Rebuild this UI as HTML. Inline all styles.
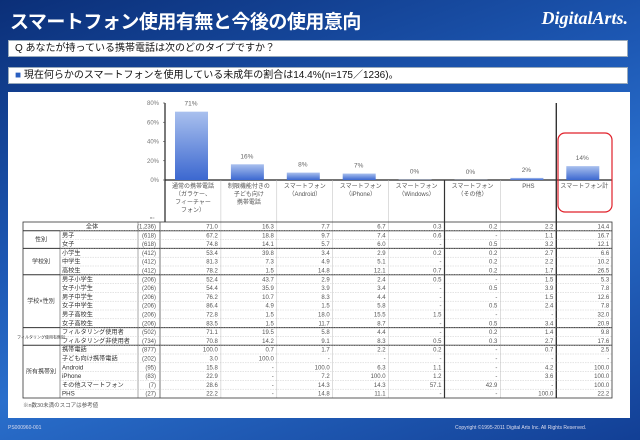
<!DOCTYPE html>
<html><head><meta charset="utf-8">
<style>
*{margin:0;padding:0;box-sizing:border-box}
body{width:640px;height:440px;overflow:hidden;position:relative;font-family:"Liberation Sans","Noto Sans CJK JP",sans-serif;background:linear-gradient(160deg,#0b2f78 0%,#1d58b4 40%,#2a6fcc 60%,#123f95 100%)}
.title{position:absolute;left:10px;top:7px;color:#fff;font-size:19px;font-weight:bold;letter-spacing:-0.5px}
.logo{position:absolute;right:12px;top:8px;color:#fff;font-size:18px;font-style:italic;font-family:"Liberation Serif",serif;font-weight:bold}
.box{position:absolute;left:8px;width:620px;background:#fff;border:1px solid #9ab;font-size:10px;color:#111;padding-left:6px;line-height:15px}
.panel{position:absolute;left:8px;top:92px;width:622px;height:326px;background:#fff}
.foot{position:absolute;top:425px;font-size:5px;color:#dde}
svg text{font-family:"Liberation Sans","Noto Sans CJK JP",sans-serif}
</style></head><body>
<div class="title">スマートフォン使用有無と今後の使用意向</div>
<div class="logo">DigitalArts.</div>
<div class="box" style="top:40px;height:17px">Q あなたが持っている携帯電話は次のどのタイプですか？</div>
<div class="box" style="top:67px;height:17px"><span style="color:#2a5fc0">■</span> 現在何らかのスマートフォンを使用している未成年の割合は14.4%(n=175／1236)。</div>
<div class="panel"></div>
<svg id="chart" width="640" height="440" style="position:absolute;left:0;top:0">
<defs><linearGradient id="bg" x1="0" y1="0" x2="0" y2="1"><stop offset="0" stop-color="#a9c0ee"/><stop offset="1" stop-color="#3c68d0"/></linearGradient></defs>
<g id="g"></g></svg>
<div class="foot" style="left:8px">PS000960-001</div>
<div class="foot" style="left:455px">Copyright ©1995-2011 Digital Arts Inc. All Rights Reserved.</div>
<script>
const categories=[["通常の携帯電話","（ガラケー、","フィーチャー","フォン）"],["制限機能付きの","子ども向け","携帯電話"],["スマートフォン","（Android）"],["スマートフォン","（iPhone）"],["スマートフォン","（Windows）"],["スマートフォン","（その他）"],["PHS"],["スマートフォン計"]];
const values=[71.0,16.3,7.7,6.7,0.3,0.2,2.2,14.4];
const valueLabels=["71%","16%","8%","7%","0%","0%","2%","14%"];
const yTicks=[0,20,40,60,80];
const rowGroups=[["全体",1],["性別",2],["学校別",3],["学校×性別",6],["フィルタリング使用有無別",2],["所有携帯別",6]];
const rowLabels=["全体","男子","女子","小学生","中学生","高校生","男子小学生","女子小学生","男子中学生","女子中学生","男子高校生","女子高校生","フィルタリング使用者","フィルタリング非使用者","携帯電話","子ども向け携帯電話","Android","iPhone","その他スマートフォン","PHS"];
const rowN=["1,236","618","618","412","412","412","206","206","206","206","206","206","502","734","877","202","95","83","7","27"];
const tableData=[
["71.0","16.3","7.7","6.7","0.3","0.2","2.2","14.4"],
["67.2","18.8","9.7","7.4","0.6","-","1.1","16.7"],
["74.8","14.1","5.7","6.0","-","0.5","3.2","12.1"],
["53.4","39.8","3.4","2.9","0.2","0.2","2.7","6.6"],
["81.3","7.3","4.9","5.1","-","0.2","2.2","10.2"],
["78.2","1.5","14.8","12.1","0.7","0.2","1.7","26.5"],
["52.4","43.7","2.9","2.4","0.5","-","1.5","5.3"],
["54.4","35.9","3.9","3.4","-","0.5","3.9","7.8"],
["76.2","10.7","8.3","4.4","-","-","1.5","12.6"],
["86.4","4.9","1.5","5.8","-","0.5","2.4","7.8"],
["72.8","1.5","18.0","15.5","1.5","-","-","32.0"],
["83.5","1.5","11.7","8.7","-","0.5","3.4","20.9"],
["71.1","19.5","5.8","4.4","-","0.2","1.4","9.8"],
["70.8","14.2","9.1","8.3","0.5","0.3","2.7","17.6"],
["100.0","0.7","1.7","2.2","0.2","-","0.7","2.5"],
["3.0","100.0","-","-","-","-","-","-"],
["15.8","-","100.0","6.3","1.1","-","4.2","100.0"],
["22.9","-","7.2","100.0","1.2","-","3.6","100.0"],
["28.6","-","14.3","14.3","57.1","42.9","-","100.0"],
["22.2","-","14.8","11.1","-","-","100.0","22.2"]];

const g=document.getElementById('g');const NS="http://www.w3.org/2000/svg";
function mk(t,a,txt){const e=document.createElementNS(NS,t);for(const k in a)e.setAttribute(k,a[k]);if(txt!==undefined)e.textContent=txt;g.appendChild(e);return e;}
const X0=165,CW=55.9,Y0=180,Y80=103;
function y(v){return Y0-(v/80)*(Y0-Y80);}
function cx(i){return X0+i*CW;}
let e=mk('line',{x1:X0,y1:Y80,x2:X0,y2:222,stroke:'#222','stroke-width':1.2});


yTicks.forEach(t=>{let l=mk('text',{x:X0-6,y:y(t)+2,'font-size':6,fill:'#777','text-anchor':'end'},t+'%');


mk('line',{x1:X0-2,y1:y(t),x2:X0,y2:y(t),stroke:'#444','stroke-width':0.6});});
e=mk('line',{x1:X0,y1:Y0,x2:612,y2:Y0,stroke:'#222','stroke-width':1.2});


mk('line',{x1:cx(7),y1:Y80,x2:cx(7),y2:398,stroke:'#333','stroke-width':1.4});
mk('line',{x1:cx(5),y1:Y0,x2:cx(5),y2:398,stroke:'#333','stroke-width':1.2});
values.forEach((v,i)=>{
 const b=mk('rect',{x:cx(i)+10,y:y(v),width:33,height:Y0-y(v),fill:'url(#bg)'});
 
 
 const t=mk('text',{x:cx(i)+26,y:y(v)-6,'font-size':6.5,fill:'#666','text-anchor':'middle'},valueLabels[i]);
 
 
 categories[i].forEach((s,j)=>{const c=mk('text',{x:cx(i)+28,y:188+j*8,'font-size':6,fill:'#555','text-anchor':'middle'},s);
 
 });
 if(i>0&&i!==5&&i!==7)mk('line',{x1:cx(i),y1:Y0,x2:cx(i),y2:398,stroke:'#bbb','stroke-width':0.5});
});
e=mk('rect',{x:558,y:133,width:54,height:79,rx:7,fill:'none',stroke:'#e0202a','stroke-width':1.2});


mk('text',{x:150,y:219,'font-size':4,fill:'#666'},'n=');
const T0=222,RH=8.8;
mk('rect',{x:23,y:T0,width:589,height:RH*20,fill:'none',stroke:'#333','stroke-width':0.8});
mk('line',{x1:138,y1:T0,x2:138,y2:T0+RH*20,stroke:'#555','stroke-width':0.5});
mk('line',{x1:160,y1:T0,x2:160,y2:T0+RH*20,stroke:'#555','stroke-width':0.8});
mk('line',{x1:60,y1:T0+RH,x2:60,y2:T0+RH*20,stroke:'#555','stroke-width':0.6});
let r=0;
rowGroups.forEach(([name,cnt],gi)=>{
 const top=T0+r*RH;
 if(r>0)mk('line',{x1:23,y1:top,x2:612,y2:top,stroke:'#333','stroke-width':1});
 if(cnt>1){const t=mk('text',{x:41,y:top+cnt*RH/2+2,'font-size':name.length>6?4:6,fill:'#333','text-anchor':'middle'},name);
 
 }
 r+=cnt;
});
rowLabels.forEach((lab,i)=>{
 const yy=T0+i*RH;
 if(i>0)mk('line',{x1:60,y1:yy,x2:612,y2:yy,stroke:'#bbb','stroke-width':0.4,'stroke-dasharray':'1.5,1'});
 const t=mk('text',{x:i===0?92:62,y:yy+6.5,'font-size':6.2,fill:'#333','text-anchor':i===0?'middle':'start'},lab);
 
 
 mk('text',{x:156,y:yy+6.5,'font-size':6,fill:'#555','text-anchor':'end'},'('+rowN[i]+')');
 tableData[i].forEach((v,j)=>{const c=mk('text',{x:cx(j+1)-3,y:yy+6.5,'font-size':6,fill:'#555','text-anchor':'end'},v);
 
 });
});
e=mk('text',{x:23,y:407,'font-size':5.5,fill:'#555'},'※n数30未満のスコアは参考値');


</script>
</body></html>
